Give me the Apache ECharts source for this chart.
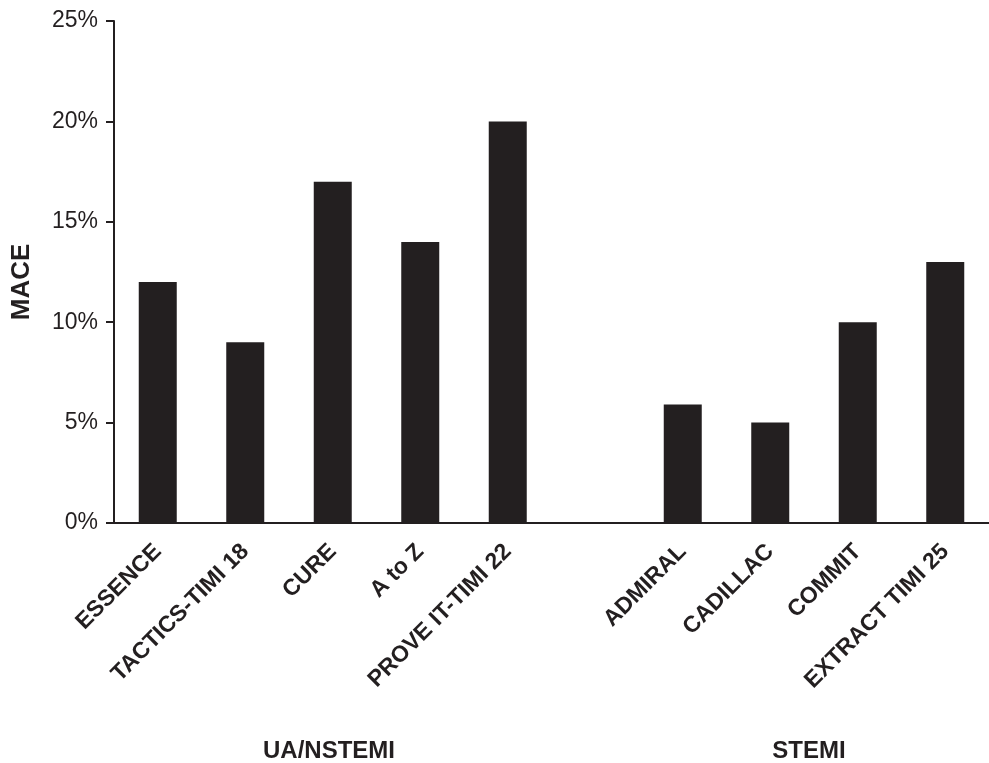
<!DOCTYPE html>
<html>
<head>
<meta charset="utf-8">
<script src="https://cdn.jsdelivr.net/npm/echarts@6/dist/echarts.min.js"></script>
<style>
html,body{margin:0;padding:0;background:#fff;}
#c{width:989px;height:763px;}
</style>
</head>
<body>
<div id="c"></div>
<script>
const categories = ['ESSENCE','TACTICS-TIMI 18','CURE','A to Z','PROVE IT-TIMI 22','','ADMIRAL','CADILLAC','COMMIT','EXTRACT TIMI 25'];
const maceValues = [12, 9, 17, 14, 20, null, 5.9, 5, 10, 13];
const yTicks = { min: 0, max: 25, interval: 5 };
const groupLabels = ['UA/NSTEMI', 'STEMI'];
const yAxisTitle = 'MACE';

const ink = '#231f20';
const ff = '"Liberation Sans", Arial, Helvetica, sans-serif';
const chart = echarts.init(document.getElementById('c'), null, {renderer: 'canvas'});
chart.setOption({
  animation: false,
  backgroundColor: '#ffffff',
  grid: { left: 114, top: 21, height: 502, width: 886, containLabel: false },
  xAxis: {
    type: 'category',
    data: categories,
    axisLine: { lineStyle: { color: ink, width: 2 } },
    axisTick: { show: false },
    axisLabel: {
      interval: 0, rotate: 45, margin: 25,
      color: ink, fontFamily: ff, fontWeight: 'bold', fontSize: 23
    }
  },
  yAxis: {
    type: 'value',
    min: yTicks.min, max: yTicks.max, interval: yTicks.interval,
    axisLine: { show: true, lineStyle: { color: ink, width: 2 } },
    axisTick: { show: true, length: 8, lineStyle: { color: ink, width: 2 } },
    splitLine: { show: false },
    axisLabel: {
      formatter: '{value}%', margin: 16,
      color: ink, fontFamily: ff, fontSize: 23
    }
  },
  series: [{
    type: 'bar',
    data: maceValues,
    barWidth: 38,
    itemStyle: { color: ink }
  }],
  graphic: [
    { type: 'text', x: 22, y: 282, rotation: Math.PI / 2,
      style: { text: yAxisTitle, fill: ink, font: 'bold 26px ' + ff, textAlign: 'center', textVerticalAlign: 'middle' } },
    { type: 'text', x: 329, y: 751,
      style: { text: groupLabels[0], fill: ink, font: 'bold 24px ' + ff, textAlign: 'center', textVerticalAlign: 'middle' } },
    { type: 'text', x: 809, y: 751,
      style: { text: groupLabels[1], fill: ink, font: 'bold 24px ' + ff, textAlign: 'center', textVerticalAlign: 'middle' } }
  ]
});
</script>
</body>
</html>
